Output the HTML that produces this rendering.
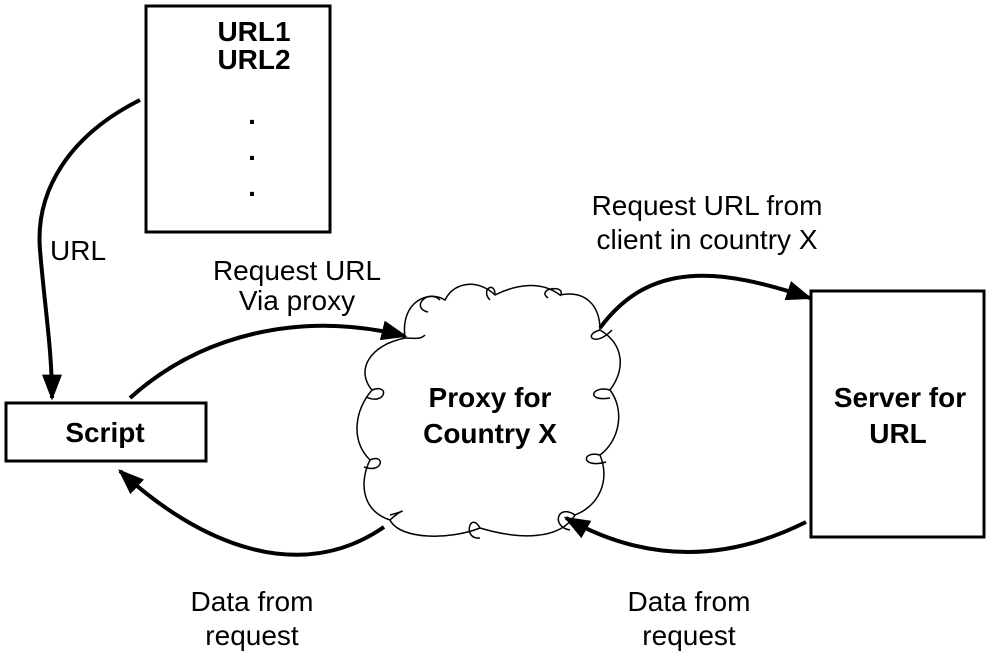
<!DOCTYPE html>
<html><head><style>
body{margin:0;background:#fff;}
svg{display:block;}
text{font-family:"Liberation Sans",Arial,sans-serif;font-size:28px;fill:#000;}
.b{font-weight:bold;}
</style></head><body>
<svg width="992" height="655" viewBox="0 0 992 655">
<defs>
<marker id="ah" viewBox="0 0 10 10" refX="9" refY="5" markerWidth="26" markerHeight="20" orient="auto" markerUnits="userSpaceOnUse" preserveAspectRatio="none"><path d="M0,0 L10,5 L0,10z" fill="#000"/></marker></defs>
<rect x="146" y="6" width="184" height="226" fill="#fff" stroke="#000" stroke-width="3"/>
<text class="b" x="254" y="41" text-anchor="middle">URL1</text>
<text class="b" x="254" y="69" text-anchor="middle">URL2</text>
<text class="b" x="252" y="124" text-anchor="middle">.</text>
<text class="b" x="252" y="160" text-anchor="middle">.</text>
<text class="b" x="252" y="196" text-anchor="middle">.</text>
<rect x="6" y="403" width="200" height="58" fill="#fff" stroke="#000" stroke-width="3"/>
<text class="b" x="105" y="442" text-anchor="middle">Script</text>
<rect x="811" y="291" width="173" height="246" fill="#fff" stroke="#000" stroke-width="3"/>
<text class="b" x="900" y="407" text-anchor="middle">Server for</text>
<text class="b" x="898" y="443" text-anchor="middle">URL</text>
<path d="M405,338 C400,300 430,290 445,300 C455,280 480,280 495,295 C515,285 540,280 560,295 C585,290 600,305 600,330 C625,345 625,370 610,390 C625,410 620,440 600,455 C610,480 600,505 575,515 C560,540 520,540 480,528 C450,540 400,540 390,520 C360,510 360,480 370,460 C350,440 355,410 372,390 C355,370 370,345 405,338 Z" fill="#fff" stroke="#000" stroke-width="1.5"/>
<g fill="none" stroke="#000" stroke-width="1.5">
<path d="M440,300 c-12,-12 -30,8 -12,12 M495,295 c0,-15 -15,-5 -5,5 M560,296 c8,-12 -25,-8 -12,2 M600,330 c-18,5 -5,18 12,0 M610,390 c-18,-5 -25,12 0,8 M600,455 c-18,-5 -20,14 6,7 M575,515 c-18,-12 -24,12 -5,15 M480,528 c-10,-18 -18,12 0,10 M390,520 c12,-12 20,-10 0,-5 M370,460 c15,-7 14,14 -6,7 M372,390 c18,-7 14,16 -6,7 M405,338 c10,0 15,2 20,-3"/>
</g>
<text class="b" x="490" y="407" text-anchor="middle">Proxy for</text>
<text class="b" x="490" y="443" text-anchor="middle">Country X</text>
<g fill="none" stroke="#000" stroke-width="4">
<path d="M140,100 C70,135 35,190 40,250 C45,310 52,350 52,398" marker-end="url(#ah)"/>
<path d="M130,398 C200,335 300,310 405,336" marker-end="url(#ah)"/>
<path d="M600,328 C650,260 720,268 810,298" marker-end="url(#ah)"/>
<path d="M806,522 C720,565 640,560 566,518" marker-end="url(#ah)"/>
<path d="M384,527 C300,585 200,545 120,471" marker-end="url(#ah)"/>
</g>
<text x="50" y="260">URL</text>
<text x="297" y="280" text-anchor="middle">Request URL</text>
<text x="297" y="310" text-anchor="middle">Via proxy</text>
<text x="707" y="215" text-anchor="middle">Request URL from</text>
<text x="707" y="249" text-anchor="middle">client in country X</text>
<text x="252" y="611" text-anchor="middle">Data from</text>
<text x="252" y="645" text-anchor="middle">request</text>
<text x="689" y="611" text-anchor="middle">Data from</text>
<text x="689" y="645" text-anchor="middle">request</text>
</svg>
</body></html>
